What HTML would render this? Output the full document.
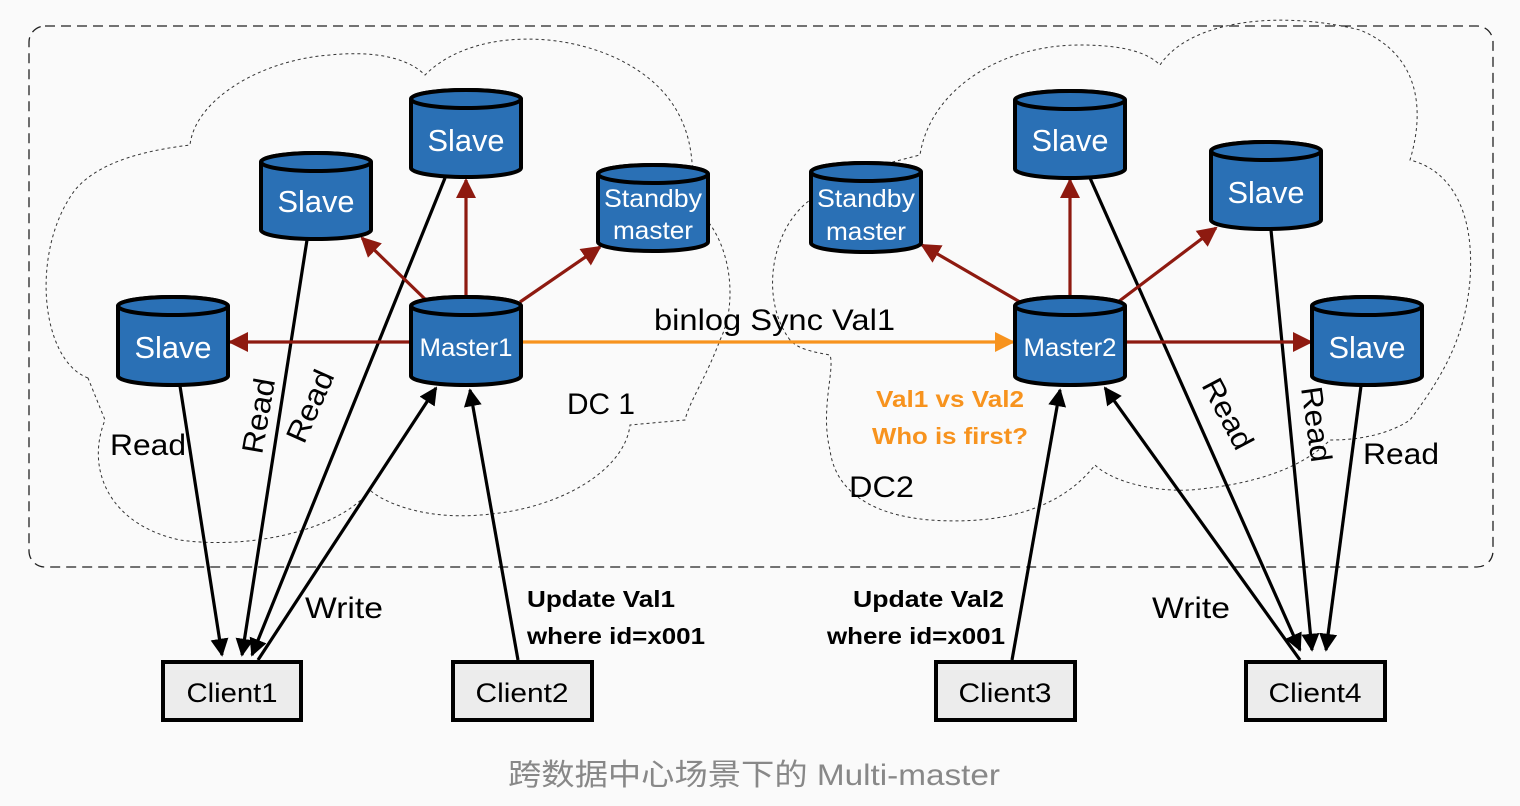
<!DOCTYPE html>
<html><head><meta charset="utf-8"><style>
html,body{margin:0;padding:0;background:#fafafa;}
svg{display:block;}
text{font-family:"Liberation Sans","Noto Sans CJK SC",sans-serif;}
</style></head><body>
<svg width="1520" height="806" viewBox="0 0 1520 806" xmlns="http://www.w3.org/2000/svg">
<defs>
<marker id="blk" viewBox="0 0 10 10" refX="9" refY="5" markerWidth="18" markerHeight="18" orient="auto" markerUnits="userSpaceOnUse"><path d="M0,0 L10,5 L0,10 z" fill="#000"/></marker>
<marker id="red" viewBox="0 0 10 10" refX="9" refY="5" markerWidth="20" markerHeight="20" orient="auto" markerUnits="userSpaceOnUse"><path d="M0,0 L10,5 L0,10 z" fill="#8e1a10"/></marker>
<marker id="org" viewBox="0 0 10 10" refX="9" refY="5" markerWidth="20" markerHeight="20" orient="auto" markerUnits="userSpaceOnUse"><path d="M0,0 L10,5 L0,10 z" fill="#f7931e"/></marker>
</defs>
<rect width="1520" height="806" fill="#fafafa"/>
<rect x="29" y="26" width="1464" height="541" rx="16" fill="none" stroke="#222" stroke-width="1.3" stroke-dasharray="10,6"/>

<path d="M88,378 C40,360 30,250 75,190 C100,160 150,150 190,145 C195,100 260,60 330,55 C380,50 410,60 425,75 C470,30 560,30 620,60 C680,90 700,140 690,205 C730,230 740,300 720,340 C705,380 690,400 685,420 L630,425 C625,470 560,510 480,515 C420,520 380,500 370,490 C340,530 250,550 180,540 C110,525 85,470 105,420 Z" fill="none" stroke="#333" stroke-width="1" stroke-dasharray="3,3"/>
<path d="M790,340 C760,300 770,230 810,200 C840,175 880,165 920,155 C930,90 1000,45 1080,45 C1130,45 1150,55 1160,65 C1190,20 1280,10 1360,30 C1420,55 1425,110 1410,160 C1450,170 1475,210 1470,280 C1465,340 1440,380 1410,420 C1380,440 1340,440 1330,440 C1300,470 1250,485 1190,490 C1150,492 1110,480 1095,465 C1060,510 1000,525 930,520 C870,515 835,490 830,450 C820,410 835,370 830,355 C800,350 795,345 790,340 Z" fill="none" stroke="#333" stroke-width="1" stroke-dasharray="3,3"/>

<g stroke="#000" stroke-width="3.2" fill="none" marker-end="url(#blk)">
<line x1="180" y1="386" x2="222" y2="655"/>
<line x1="307" y1="240" x2="242" y2="655"/>
<line x1="445" y1="178" x2="252" y2="655"/>
<line x1="258" y1="660" x2="436" y2="388"/>
<line x1="518" y1="660" x2="470" y2="390"/>
<line x1="1012" y1="660" x2="1060" y2="390"/>
<line x1="1300" y1="660" x2="1105" y2="388"/>
<line x1="1090" y1="178" x2="1300" y2="650"/>
<line x1="1271" y1="230" x2="1312" y2="650"/>
<line x1="1361" y1="386" x2="1326" y2="650"/>
</g>
<g stroke="#8e1a10" stroke-width="3.2" fill="none" marker-end="url(#red)">
<line x1="413" y1="342" x2="230" y2="342"/>
<line x1="428" y1="302" x2="362" y2="238"/>
<line x1="466" y1="298" x2="466" y2="180"/>
<line x1="520" y1="302" x2="600" y2="247"/>
<line x1="1020" y1="302" x2="922" y2="245"/>
<line x1="1070" y1="298" x2="1070" y2="180"/>
<line x1="1118" y1="302" x2="1216" y2="228"/>
<line x1="1126" y1="342" x2="1311" y2="342"/>
</g>
<line x1="522" y1="342" x2="1013" y2="342" stroke="#f7931e" stroke-width="3.2" marker-end="url(#org)"/>

<g stroke="#000" stroke-width="4" fill="#2a70b5">
<path d="M118,306 A55,9 0 0 1 228,306 V376 A55,9 0 0 1 118,376 Z"/><ellipse cx="173" cy="306" rx="55" ry="9"/>
<path d="M261,162 A55,9 0 0 1 371,162 V230 A55,9 0 0 1 261,230 Z"/><ellipse cx="316" cy="162" rx="55" ry="9"/>
<path d="M411,99 A55,9 0 0 1 521,99 V168 A55,9 0 0 1 411,168 Z"/><ellipse cx="466" cy="99" rx="55" ry="9"/>
<path d="M598,174 A55,9 0 0 1 708,174 V242 A55,9 0 0 1 598,242 Z"/><ellipse cx="653" cy="174" rx="55" ry="9"/>
<path d="M411,306 A55,9 0 0 1 521,306 V376 A55,9 0 0 1 411,376 Z"/><ellipse cx="466" cy="306" rx="55" ry="9"/>
<path d="M811,172 A55,9 0 0 1 921,172 V243 A55,9 0 0 1 811,243 Z"/><ellipse cx="866" cy="172" rx="55" ry="9"/>
<path d="M1015,100 A55,9 0 0 1 1125,100 V169 A55,9 0 0 1 1015,169 Z"/><ellipse cx="1070" cy="100" rx="55" ry="9"/>
<path d="M1211,151 A55,9 0 0 1 1321,151 V220 A55,9 0 0 1 1211,220 Z"/><ellipse cx="1266" cy="151" rx="55" ry="9"/>
<path d="M1015,306 A55,9 0 0 1 1125,306 V376 A55,9 0 0 1 1015,376 Z"/><ellipse cx="1070" cy="306" rx="55" ry="9"/>
<path d="M1312,306 A55,9 0 0 1 1422,306 V376 A55,9 0 0 1 1312,376 Z"/><ellipse cx="1367" cy="306" rx="55" ry="9"/>
</g>
<g fill="#fff" text-anchor="middle" font-size="31" lengthAdjust="spacingAndGlyphs">
<text x="173" y="358" textLength="77" lengthAdjust="spacingAndGlyphs">Slave</text>
<text x="316" y="212" textLength="77" lengthAdjust="spacingAndGlyphs">Slave</text>
<text x="466" y="151" textLength="77" lengthAdjust="spacingAndGlyphs">Slave</text>
<text x="1070" y="151" textLength="77" lengthAdjust="spacingAndGlyphs">Slave</text>
<text x="1266" y="203" textLength="77" lengthAdjust="spacingAndGlyphs">Slave</text>
<text x="1367" y="358" textLength="77" lengthAdjust="spacingAndGlyphs">Slave</text>
<text x="466" y="356" font-size="25" textLength="93" lengthAdjust="spacingAndGlyphs">Master1</text>
<text x="1070" y="356" font-size="25" textLength="93" lengthAdjust="spacingAndGlyphs">Master2</text>
<text x="653" y="207" font-size="25" textLength="98" lengthAdjust="spacingAndGlyphs">Standby</text>
<text x="653" y="239" font-size="25" textLength="80" lengthAdjust="spacingAndGlyphs">master</text>
<text x="866" y="207" font-size="25" textLength="98" lengthAdjust="spacingAndGlyphs">Standby</text>
<text x="866" y="240" font-size="25" textLength="80" lengthAdjust="spacingAndGlyphs">master</text>
</g>

<g stroke="#000" stroke-width="4" fill="#ececec">
<rect x="163" y="662" width="138" height="58"/>
<rect x="453" y="662" width="139" height="58"/>
<rect x="936" y="662" width="139" height="58"/>
<rect x="1246" y="662" width="139" height="58"/>
</g>
<g font-size="27" text-anchor="middle" fill="#000">
<text x="232" y="702" textLength="91" lengthAdjust="spacingAndGlyphs">Client1</text>
<text x="522" y="702" textLength="93" lengthAdjust="spacingAndGlyphs">Client2</text>
<text x="1005" y="702" textLength="93" lengthAdjust="spacingAndGlyphs">Client3</text>
<text x="1315" y="702" textLength="93" lengthAdjust="spacingAndGlyphs">Client4</text>
</g>

<g font-size="30" fill="#000">
<text x="654" y="330" textLength="241" lengthAdjust="spacingAndGlyphs">binlog Sync Val1</text>
<text x="567" y="414" textLength="68" lengthAdjust="spacingAndGlyphs">DC 1</text>
<text x="849" y="497" textLength="65" lengthAdjust="spacingAndGlyphs">DC2</text>
<text x="110" y="455" textLength="76" lengthAdjust="spacingAndGlyphs">Read</text>
<text x="1363" y="464" textLength="76" lengthAdjust="spacingAndGlyphs">Read</text>
<text x="305" y="618" textLength="78" lengthAdjust="spacingAndGlyphs">Write</text>
<text x="1152" y="618" textLength="78" lengthAdjust="spacingAndGlyphs">Write</text>
<text transform="translate(262,455) rotate(-80)" textLength="76" lengthAdjust="spacingAndGlyphs">Read</text>
<text transform="translate(304,445) rotate(-66)" textLength="76" lengthAdjust="spacingAndGlyphs">Read</text>
<text transform="translate(1201,385) rotate(62)" textLength="76" lengthAdjust="spacingAndGlyphs">Read</text>
<text transform="translate(1301,388) rotate(82)" textLength="76" lengthAdjust="spacingAndGlyphs">Read</text>
</g>
<g font-size="23" font-weight="bold" fill="#000">
<text x="527" y="607" textLength="148" lengthAdjust="spacingAndGlyphs">Update Val1</text>
<text x="527" y="644" textLength="178" lengthAdjust="spacingAndGlyphs">where id=x001</text>
<text x="853" y="607" textLength="151" lengthAdjust="spacingAndGlyphs">Update Val2</text>
<text x="827" y="644" textLength="178" lengthAdjust="spacingAndGlyphs">where id=x001</text>
</g>
<g font-size="23" font-weight="bold" fill="#f7931e">
<text x="876" y="407" textLength="148" lengthAdjust="spacingAndGlyphs">Val1 vs Val2</text>
<text x="872" y="444" textLength="156" lengthAdjust="spacingAndGlyphs">Who is first?</text>
</g>
<text x="508" y="785" font-size="30" fill="#888" textLength="492" lengthAdjust="spacingAndGlyphs">跨数据中心场景下的 Multi-master</text>
</svg>
</body></html>
